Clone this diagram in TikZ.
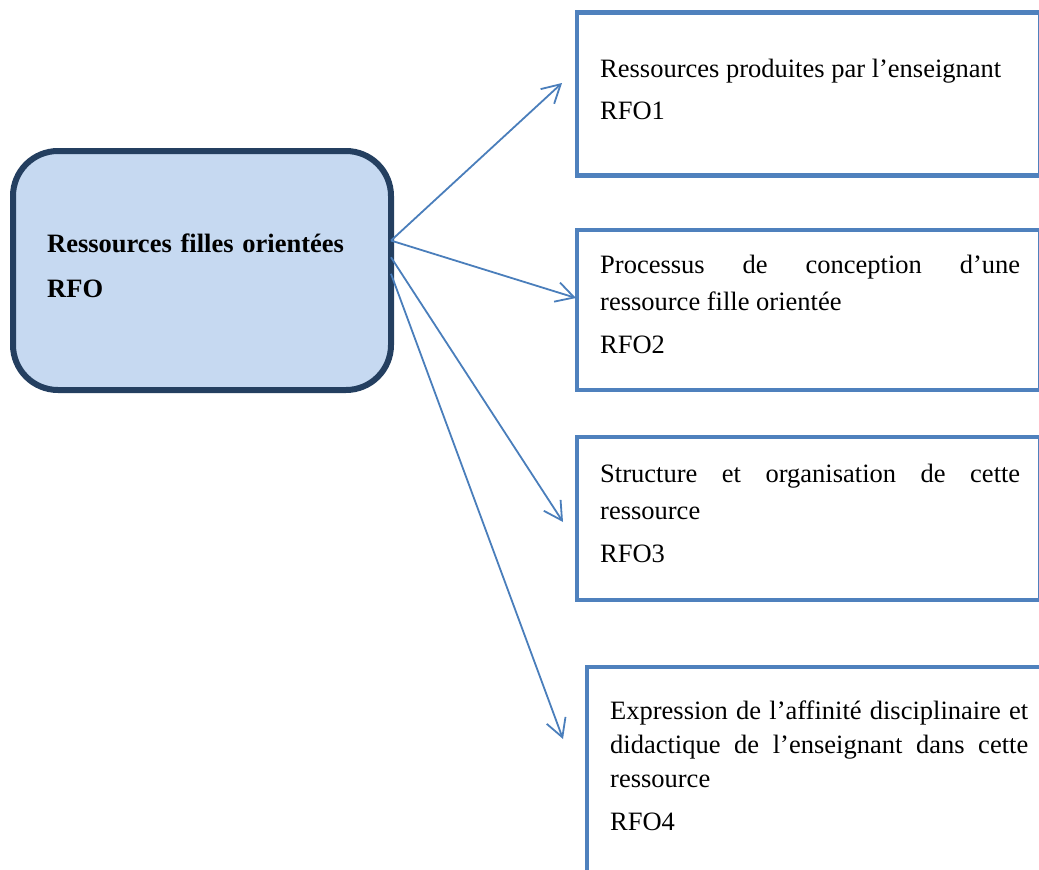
\documentclass[tikz,border=0pt]{standalone}
\usepackage{fontspec}
\setmainfont{Liberation Serif}
\usepackage{tikz}
\usetikzlibrary{arrows.meta}
\definecolor{rfoline}{RGB}{36,63,96}
\definecolor{rfofill}{RGB}{198,217,241}
\definecolor{boxblue}{RGB}{79,129,189}
\definecolor{arrowblue}{RGB}{74,126,187}
\tikzset{>={Straight Barb[length=18pt,width=20pt]}}
\tikzset{
  rfobox/.style={draw=rfoline, fill=rfofill, line width=6pt, rounded corners=45pt,
    minimum width=378pt, minimum height=239pt, inner sep=0pt, outer sep=0pt},
  outbox/.style={draw=boxblue, line width=4.5pt, anchor=north west, inner sep=0pt, outer sep=0pt},
  boxtext/.style={anchor=base west, inner sep=0pt, text width=420pt, align=justify,
    font=\fontsize{26.5}{37}\selectfont},
  link/.style={->, draw=arrowblue, line width=1.8pt}
}
\newcommand{\rfosize}{\fontsize{26.5}{37}\selectfont}

\begin{document}
\begin{tikzpicture}[x=1pt,y=-1pt]
  \useasboundingbox (0,0) rectangle (1039,870);
  \clip (0,0) rectangle (1039,870);

  % main box
  \node[rfobox] (rfo) at (202,270.5) {};
  \node[boxtext, text width=320pt, align=left, font=\rfosize\bfseries] (rfot) at (47,252)
    {Ressources filles orientées\\[8pt]RFO};

  % the four boxes on the right
  \node[outbox, minimum width=463pt, minimum height=163pt] (b1) at (577,12.5) {};
  \node[outbox, minimum width=463pt, minimum height=160pt] (b2) at (577,230) {};
  \node[outbox, minimum width=463pt, minimum height=163pt] (b3) at (577,437) {};
  \node[outbox, minimum width=480pt, minimum height=260pt] (b4) at (587,667) {};

  \node[boxtext] (t1) at (600,77) {Ressources produites par l’enseignant\\[5pt]RFO1};
  \node[boxtext] (t2) at (600,273) {Processus de conception d’une\linebreak ressource fille orientée\\[6pt]RFO2};
  \node[boxtext] (t3) at (600,482) {Structure et organisation de cette\linebreak ressource\\[6pt]RFO3};
  \node[boxtext, text width=418pt, font=\fontsize{26.5}{34}\selectfont] (t4) at (610,719)
    {Expression de l’affinité disciplinaire et\linebreak didactique de l’enseignant dans cette\linebreak ressource\\[9pt]RFO4};

  % arrows
  \coordinate (e1) at (562,83);
  \coordinate (e2) at (576,298);
  \coordinate (e3) at (563,522);
  \coordinate (e4) at (563,739);
  \draw[link] (rfo.9) -- (e1);
  \draw[link] (rfo.9) -- (e2);
  \draw[link] (rfo.4.4) -- (e3);
  \draw[link] (rfo.-1) -- (e4);
\end{tikzpicture}
\end{document}
